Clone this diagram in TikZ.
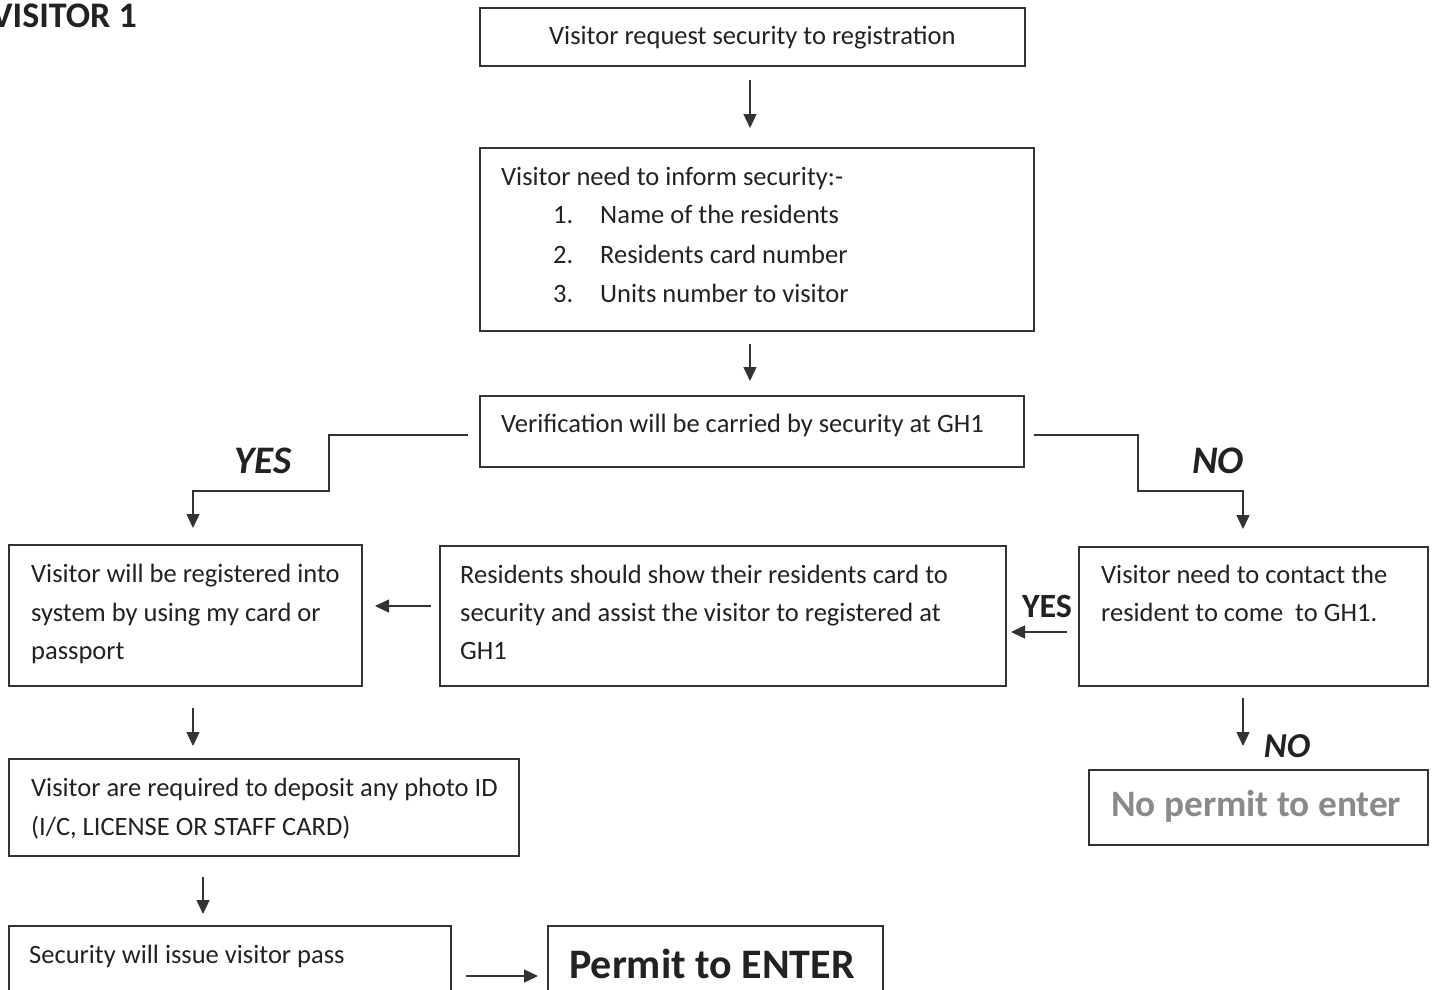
\documentclass[tikz,border=0pt]{standalone}
\usepackage{fontspec}
\setmainfont{Carlito}
\usetikzlibrary{arrows.meta}
\definecolor{ink}{HTML}{222222}
\definecolor{edge}{HTML}{333333}
\definecolor{greytext}{HTML}{8A8A8A}
\begin{document}
\begin{tikzpicture}[x=1pt,y=-1pt,
  box/.style={draw=edge,line width=1.4pt},
  txt/.style={anchor=base west,inner sep=0pt,text=ink,font=\fontsize{26.5}{30}\selectfont},
  lbl/.style={anchor=base,inner sep=0pt,text=ink,font=\fontsize{39}{44}\selectfont\bfseries\itshape},
  arr/.style={draw=edge,line width=1.4pt,-{Triangle[length=14pt,width=13pt]}},
  conn/.style={draw=edge,line width=1.4pt}]
\useasboundingbox (0,0) rectangle (1433,990);
\clip (0,0) rectangle (1433,990);
\fill[white] (0,0) rectangle (1433,990);
% title
\node[anchor=base east,inner sep=0pt,text=ink,font=\fontsize{36}{40}\selectfont\bfseries] (title) at (137,28) {VISITOR 1};
% boxes
\node[box,minimum width=545pt,minimum height=58pt,inner sep=0pt] (b1) at (752.5,37) {};
\node[box,minimum width=554pt,minimum height=183pt,inner sep=0pt] (b2) at (757,239.5) {};
\node[box,minimum width=544pt,minimum height=71pt,inner sep=0pt] (b3) at (752,431.5) {};
\node[box,minimum width=353pt,minimum height=141pt,inner sep=0pt] (bl) at (185.5,615.5) {};
\node[box,minimum width=566pt,minimum height=140pt,inner sep=0pt] (bm) at (723,616) {};
\node[box,minimum width=349pt,minimum height=139pt,inner sep=0pt] (br) at (1253.5,616.5) {};
\node[box,minimum width=510pt,minimum height=97pt,inner sep=0pt] (bp) at (264,807.5) {};
\node[box,minimum width=442pt,minimum height=100pt,inner sep=0pt] (bs) at (230,976) {};
\node[box,minimum width=335pt,minimum height=100pt,inner sep=0pt] (be) at (715.5,976) {};
\node[box,minimum width=339pt,minimum height=75pt,inner sep=0pt] (bn) at (1258.5,807.5) {};
% texts
\node[txt] (t1) at (549,45) {Visitor request security to registration};
\node[txt] (t2) at (501,185) {Visitor need to inform security:-};
\node[txt] (t2n1) at (553,223) {1.};
\node[txt] (t2a) at (600,223) {Name of the residents};
\node[txt] (t2n2) at (553,263) {2.};
\node[txt] (t2b) at (600,263) {Residents card number};
\node[txt] (t2n3) at (553,302) {3.};
\node[txt] (t2c) at (600,302) {Units number to visitor};
\node[txt] (t3) at (501,432) {Verification will be carried by security at GH1};
\node[txt] (tl1) at (31,582) {Visitor will be registered into};
\node[txt] (tl2) at (31,621) {system by using my card or};
\node[txt] (tl3) at (31,659) {passport};
\node[txt] (tm1) at (460,583) {Residents should show their residents card to};
\node[txt] (tm2) at (460,621) {security and assist the visitor to registered at};
\node[txt] (tm3) at (460,659) {GH1};
\node[txt] (tr1) at (1101,583) {Visitor need to contact the};
\node[txt] (tr2) at (1101,621) {resident to come\ \ to GH1.};
\node[txt] (tp1) at (31,796) {Visitor are required to deposit any photo ID};
\node[txt] (tp2) at (31,835) {(I/C, LICENSE OR STAFF CARD)};
\node[txt] (ts) at (29,963) {Security will issue visitor pass};
\node[anchor=base west,inner sep=0pt,text=ink,font=\fontsize{42}{46}\selectfont\bfseries] (te) at (569,978) {Permit to ENTER};
\node[anchor=base west,inner sep=0pt,text=greytext,font=\fontsize{37.3}{42}\selectfont\bfseries] (tn) at (1111,816) {No permit to enter};
% labels
\node[lbl] (yes1) at (263,473) {YES};
\node[lbl] (no1) at (1218,473) {NO};
\node[anchor=base,inner sep=0pt,text=ink,font=\fontsize{34}{40}\selectfont\bfseries] (yes2) at (1047,617) {YES};
\node[anchor=base,inner sep=0pt,text=ink,font=\fontsize{35}{40}\selectfont\bfseries\itshape] (no2) at (1287,757) {NO};
% connector end points
\coordinate (a1s) at (750,80);   \coordinate (a1e) at (750,128);
\coordinate (a2s) at (750,344);  \coordinate (a2e) at (750,381);
\coordinate (ys) at (468,435);   \coordinate (ye) at (193,528);
\coordinate (ns) at (1034,435);  \coordinate (ne) at (1243,529);
\coordinate (mls) at (431,606);  \coordinate (mle) at (375,606);
\coordinate (rms) at (1067,632); \coordinate (rme) at (1011,632);
\coordinate (lps) at (193,708);  \coordinate (lpe) at (193,746);
\coordinate (pss) at (203,877);  \coordinate (pse) at (203,914);
\coordinate (ses) at (466,976);  \coordinate (see) at (538,976);
\coordinate (rns) at (1243,698); \coordinate (rne) at (1243,746);
% connectors
\draw[arr] (a1s) -- (a1e);
\draw[arr] (a2s) -- (a2e);
\draw[arr] (ys) -- (329,435) -- (329,491) -- (193,491) -- (ye);
\draw[arr] (ns) -- (1138,435) -- (1138,491) -- (1243,491) -- (ne);
\draw[arr] (mls) -- (mle);
\draw[arr] (rms) -- (rme);
\draw[arr] (lps) -- (lpe);
\draw[arr] (pss) -- (pse);
\draw[arr] (ses) -- (see);
\draw[arr] (rns) -- (rne);
\end{tikzpicture}
\end{document}
